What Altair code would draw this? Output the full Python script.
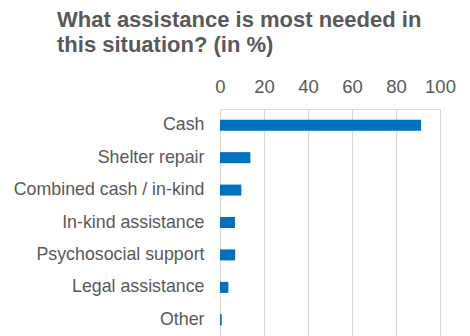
import altair as alt
import pandas as pd

categories = ["Cash", "Shelter repair", "Combined cash / in-kind", "In-kind assistance",
              "Psychosocial support", "Legal assistance", "Other"]
values = [91.4, 13.8, 9.7, 6.8, 6.9, 3.8, 0.8]
x_ticks = [0, 20, 40, 60, 80, 100]

df = pd.DataFrame({"category": categories, "value": values})

FONT = "Liberation Sans"
GRAY = "#595959"

chart = alt.Chart(df).mark_bar(size=11, color="#0070C0").encode(
    x=alt.X("value:Q",
            scale=alt.Scale(domain=[0, 100], nice=False),
            axis=alt.Axis(orient="top", values=x_ticks, title=None, domain=False,
                          ticks=False, tickSize=0, labelPadding=13,
                          labelFlush=False, labelOverlap=False,
                          labelFontSize=18.5, labelColor=GRAY, labelFont=FONT,
                          grid=True, gridColor="#d9d9d9", gridWidth=1.2)),
    y=alt.Y("category:N", sort=categories,
            axis=alt.Axis(title=None, domain=False, ticks=False, tickSize=0,
                          labelPadding=16, labelFontSize=17.8, labelColor=GRAY,
                          labelFont=FONT, labelLimit=300)),
).properties(
    width=220,
    height=227,
    title=alt.TitleParams(
        text=["What assistance is most needed in", "this situation? (in %)"],
        anchor="start", frame="group", dx=-163, fontSize=22, fontWeight="bold",
        color=GRAY, font=FONT, lineHeight=25, offset=20),
    autosize=alt.AutoSizeParams(type="none"),
    padding={"left": 220, "top": 109, "right": 30, "bottom": 0},
).configure_view(stroke=None).configure(background="white")

chart.save("out.html", embed_options={"renderer": "svg", "actions": False})
